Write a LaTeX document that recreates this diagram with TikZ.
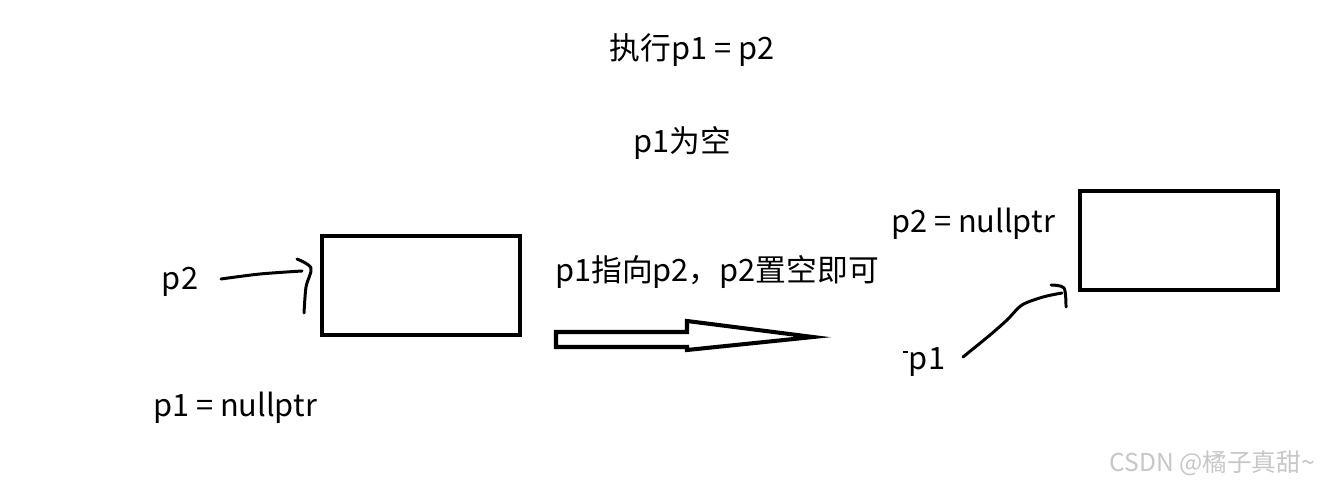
\documentclass[tikz,border=0pt]{standalone}
\usepackage{fontspec}
\setmainfont{Noto Sans CJK SC}
\usetikzlibrary{positioning}

\begin{document}
\begin{tikzpicture}[x=0.2mm,y=-0.2mm,font=\fontsize{17.5}{20}\selectfont,
  lbl/.style={inner sep=0pt},
  rec/.style={draw,line width=2.8pt,minimum width=39.6mm,minimum height=19.8mm,inner sep=0pt},
  pen/.style={line width=1.7pt,line cap=round,line join=round}]
\useasboundingbox (0,0) rectangle (1320,486);
% titles
\node[lbl] (title) at (692,50) {执行p1 = p2};
\node[lbl] (empty) at (682,143) {p1为空};
% before
\node[rec] (old) at (421,285.5) {};
\node[lbl] (p2) at (180,282) {p2};
\node[lbl] (p1null) at (235,408) {p1 = nullptr};
\coordinate (s2) at (221,279);
\draw[pen] (s2) plot[smooth] coordinates {(221,279) (260,274) (302,271)};
\draw[pen] plot[smooth] coordinates {(297,259) (311,268) (306,287) (304,313)};
% step
\node[lbl] (step) at (717,272) {p1指向p2，p2置空即可};
\draw[line width=2.3pt,line join=miter] (556,332) -- (687,332) -- (687,321) -- (813,337)
  -- (687,350) -- (687,347) -- (556,347) -- cycle;
% after
\node[rec] (new) at (1179,240.5) {};
\node[lbl] (p2null) at (973,224) {p2 = nullptr};
\node[lbl] (p1) at (927,362) {p1};
\draw[line width=1pt] (903,352) -- (908,352);
\draw[pen] plot[smooth] coordinates {(963,357) (990,335) (1007,320) (1022,305) (1043,297) (1062,293)};
\draw[pen] plot[smooth] coordinates {(1051,285) (1064,288) (1066,307)};
% mark
\node[lbl,anchor=east,text=black!22,font=\fontsize{14}{16}\selectfont] (mark) at (1315,463) {CSDN @橘子真甜\textasciitilde};
\end{tikzpicture}
\end{document}
